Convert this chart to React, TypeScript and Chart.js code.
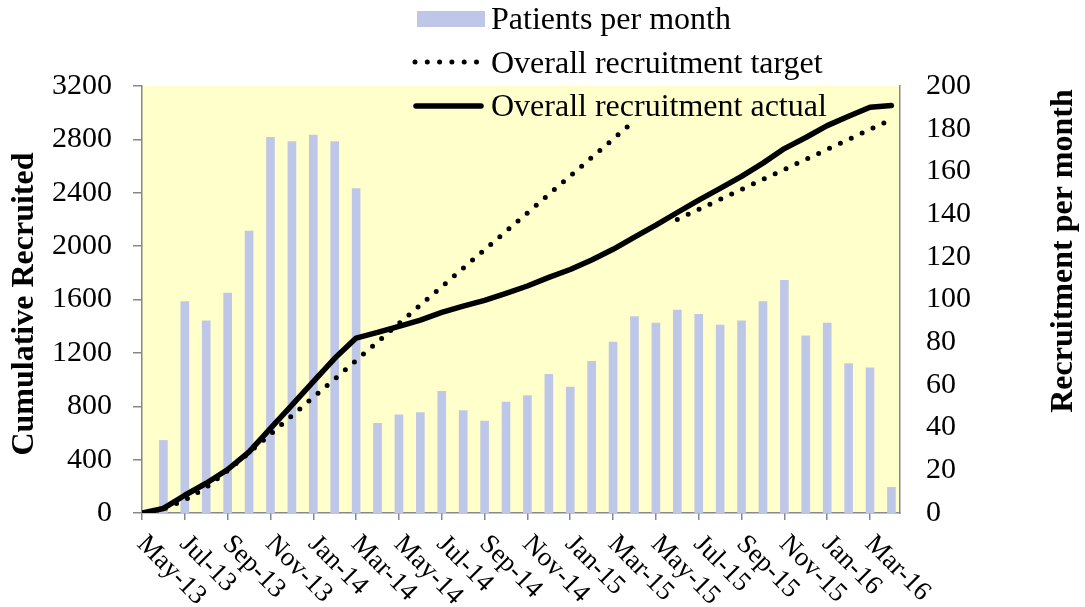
import React, { useEffect, useRef } from "react";
import { Chart, registerables } from "chart.js";

Chart.register(...registerables);

const months = [
  "May-13", "Jun-13", "Jul-13", "Aug-13", "Sep-13", "Oct-13", "Nov-13", "Dec-13",
  "Jan-14", "Feb-14", "Mar-14", "Apr-14", "May-14", "Jun-14", "Jul-14", "Aug-14",
  "Sep-14", "Oct-14", "Nov-14", "Dec-14", "Jan-15", "Feb-15", "Mar-15", "Apr-15",
  "May-15", "Jun-15", "Jul-15", "Aug-15", "Sep-15", "Oct-15", "Nov-15", "Dec-15",
  "Jan-16", "Feb-16", "Mar-16", "Apr-16",
];

const patientsPerMonth = [
  null, 34, 99, 90, 103, 132, 176, 174, 177, 174, 152, 42, 46, 47, 57, 48,
  43, 52, 55, 65, 59, 71, 80, 92, 89, 95, 93, 88, 90, 99, 109, 83,
  89, 70, 68, 12,
];

const recruitmentTarget = [
  0, 30, 97, 192, 318, 452, 591, 729, 867, 1004, 1143, 1282, 1420, 1558, 1696, 1835,
  1973, 2111, 2249, 2388, 2526, 2664, 2802, 2940, null, 2200, 2275, 2350, 2425, 2500, 2575, 2650,
  2725, 2800, 2875, 2950,
];

const recruitmentActual = [
  0, 34, 133, 223, 326, 458, 634, 808, 985, 1159, 1311, 1353, 1399, 1446, 1503, 1551,
  1594, 1646, 1701, 1766, 1825, 1896, 1976, 2068, 2157, 2252, 2345, 2433, 2523, 2622, 2731, 2814,
  2903, 2973, 3041, 3053,
];

const xTickPositions = [0, 2, 4, 6, 8, 10, 12, 14, 16, 18, 20, 22, 24, 26, 28, 30, 32, 34];
const xTickLabels = [
  "May-13", "Jul-13", "Sep-13", "Nov-13", "Jan-14", "Mar-14", "May-14", "Jul-14", "Sep-14",
  "Nov-14", "Jan-15", "Mar-15", "May-15", "Jul-15", "Sep-15", "Nov-15", "Jan-16", "Mar-16",
];

const legendLabels = ["Patients per month", "Overall recruitment target", "Overall recruitment actual"];
const leftTitle = "Cumulative Recruited";
const rightTitle = "Recruitment per month";

const BAR_COLOR = "rgb(191,199,232)";
const PLOT_BG = "rgb(255,255,204)";
const AXIS_GRAY = "#888888";
const SERIF = '"Liberation Serif", "Times New Roman", serif';

const overlayPlugin = {
  id: "overlay",
  beforeDraw(chart: any) {
    const { ctx, chartArea } = chart;
    ctx.save();
    ctx.fillStyle = PLOT_BG;
    ctx.fillRect(chartArea.left, chartArea.top, chartArea.right - chartArea.left, chartArea.bottom - chartArea.top);
    ctx.restore();
  },
  afterDraw(chart: any) {
    const { ctx } = chart;
    const xs = chart.scales.x;
    ctx.save();
    // rotated x tick labels
    ctx.fillStyle = "#000";
    ctx.font = `27px ${SERIF}`;
    ctx.textAlign = "left";
    ctx.textBaseline = "middle";
    xTickPositions.forEach((v, i) => {
      const px = xs.getPixelForValue(v);
      ctx.save();
      ctx.translate(px - 1, 540);
      ctx.rotate(Math.PI / 4);
      ctx.fillText(xTickLabels[i], 0, 0);
      ctx.restore();
    });
    // axis titles
    ctx.font = `bold 32px ${SERIF}`;
    ctx.textAlign = "center";
    ctx.textBaseline = "middle";
    ctx.save();
    ctx.translate(25, 304);
    ctx.rotate(-Math.PI / 2);
    ctx.fillText(leftTitle, 0, 0);
    ctx.restore();
    ctx.save();
    ctx.translate(1064, 251);
    ctx.rotate(-Math.PI / 2);
    ctx.fillText(rightTitle, 0, 0);
    ctx.restore();
    // legend
    ctx.fillStyle = BAR_COLOR;
    ctx.fillRect(417, 11, 68, 16);
    ctx.strokeStyle = "#000";
    ctx.lineCap = "round";
    ctx.lineWidth = 5;
    ctx.setLineDash([0, 12.3]);
    ctx.beginPath();
    ctx.moveTo(415, 62);
    ctx.lineTo(478, 62);
    ctx.stroke();
    ctx.setLineDash([]);
    ctx.lineWidth = 5.5;
    ctx.beginPath();
    ctx.moveTo(416, 106);
    ctx.lineTo(481, 106);
    ctx.stroke();
    ctx.fillStyle = "#000";
    ctx.font = `32px ${SERIF}`;
    ctx.textAlign = "left";
    ctx.textBaseline = "alphabetic";
    ctx.fillText(legendLabels[0], 491, 29);
    ctx.fillText(legendLabels[1], 491, 72.5);
    ctx.fillText(legendLabels[2], 491, 116);
    ctx.restore();
  },
};

export default function App() {
  const canvasRef = useRef<HTMLCanvasElement | null>(null);

  useEffect(() => {
    const canvas = canvasRef.current;
    if (!canvas) return;

    const barData = months
      .map((_, i) => ({ x: i, y: patientsPerMonth[i] }))
      .filter((p) => p.y !== null);
    const targetData = months.map((_, i) => ({ x: i, y: recruitmentTarget[i] }));
    const actualData = months.map((_, i) => ({ x: i, y: recruitmentActual[i] }));

    const chart = new Chart(canvas, {
      type: "bar",
      data: {
        datasets: [
          {
            type: "line",
            label: legendLabels[2],
            data: actualData as any,
            yAxisID: "y",
            borderColor: "#000",
            borderWidth: 5.5,
            borderCapStyle: "round",
            borderJoinStyle: "round",
            pointRadius: 0,
            tension: 0,
            order: 1,
          },
          {
            type: "line",
            label: legendLabels[1],
            data: targetData as any,
            yAxisID: "y",
            borderColor: "#000",
            borderWidth: 5,
            borderDash: [0, 12],
            borderCapStyle: "round",
            borderJoinStyle: "round",
            pointRadius: 0,
            tension: 0,
            spanGaps: false,
            order: 2,
          },
          {
            type: "bar",
            label: legendLabels[0],
            data: barData as any,
            yAxisID: "y1",
            backgroundColor: BAR_COLOR,
            borderWidth: 0,
            barThickness: 8,
            order: 3,
          },
        ],
      },
      options: {
        responsive: false,
        animation: false,
        events: [],
        layout: { padding: { top: 86, left: 0, right: 0, bottom: 0 } },
        plugins: {
          legend: { display: false },
          tooltip: { enabled: false },
          title: { display: false },
        },
        scales: {
          x: {
            type: "linear",
            min: 0,
            max: 35.4,
            offset: false,
            afterBuildTicks: (s: any) => {
              s.ticks = xTickPositions.map((v) => ({ value: v }));
            },
            afterFit: (s: any) => {
              s.height = 94;
            },
            ticks: { display: false },
            grid: {
              display: true,
              offset: false,
              drawOnChartArea: false,
              drawTicks: true,
              tickLength: 7,
              color: AXIS_GRAY,
              lineWidth: 1.5,
            },
            border: { display: true, color: AXIS_GRAY, width: 1.5 },
          },
          y: {
            type: "linear",
            position: "left",
            min: 0,
            max: 3200,
            afterFit: (s: any) => {
              s.width = 142;
            },
            ticks: {
              stepSize: 400,
              color: "#000",
              padding: 21,
              font: { family: SERIF, size: 30 },
              callback: (v: any) => String(v),
            },
            grid: {
              display: true,
              drawOnChartArea: false,
              drawTicks: true,
              tickLength: 9,
              color: AXIS_GRAY,
              lineWidth: 1.5,
            },
            border: { display: true, color: AXIS_GRAY, width: 1.5 },
          },
          y1: {
            type: "linear",
            position: "right",
            min: 0,
            max: 200,
            afterFit: (s: any) => {
              s.width = 185;
            },
            ticks: {
              stepSize: 20,
              color: "#000",
              padding: 26,
              font: { family: SERIF, size: 30 },
              callback: (v: any) => String(v),
            },
            grid: { display: false, drawTicks: false, drawOnChartArea: false },
            border: { display: true, color: AXIS_GRAY, width: 1.5 },
          },
        },
      },
      plugins: [overlayPlugin],
    });

    return () => {
      chart.destroy();
    };
  }, []);

  return (
    <div style={{ position: "absolute", left: 0, top: 0, width: 1085, height: 607, background: "#fff" }}>
      <canvas ref={canvasRef} width={1085} height={607} style={{ display: "block" }} />
    </div>
  );
}
